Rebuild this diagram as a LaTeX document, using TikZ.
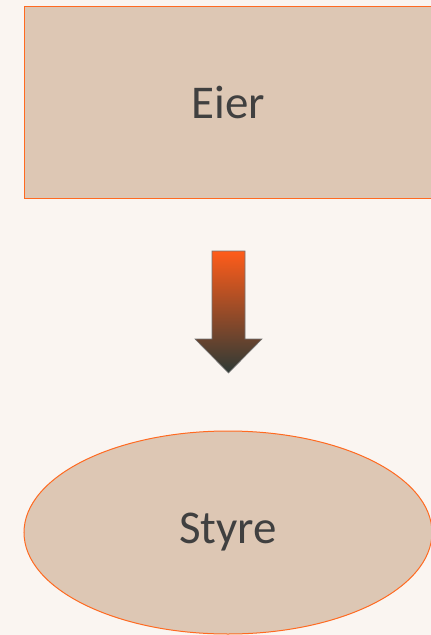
\documentclass[tikz,border=0pt]{standalone}
\usepackage{fontspec}
\setmainfont{Carlito}
\usepackage{tikz}
\usetikzlibrary{positioning, shapes.geometric}
\usepackage{xcolor}

\definecolor{pagebg}{HTML}{FAF5F1}
\definecolor{boxfill}{HTML}{DDC7B4}
\definecolor{boxline}{HTML}{FF6A21}
\definecolor{textgray}{HTML}{404040}
\definecolor{arrowtop}{HTML}{FF5C1A}
\definecolor{arrowbot}{HTML}{2E3A36}

\begin{document}
\begin{tikzpicture}[x=1pt,y=-1pt]
  \tikzstyle{block}=[draw=boxline,line width=1pt,fill=boxfill,text=textgray,
    font=\fontsize{47}{52}\selectfont,inner sep=0pt]

  \useasboundingbox[fill=pagebg] (0,0) rectangle (431,635);

  \node[block,rectangle,minimum width=409pt,minimum height=192pt] (eier) at (228.5,102) {Eier};
  \node[block,ellipse,minimum width=408pt,minimum height=203pt] (styre) at (228,532.5) {Styre};

  % block arrow between the two
  \coordinate (tip) at (228.5,373);
  \shadedraw[top color=arrowtop,bottom color=arrowbot,draw=black!55,line width=0.6pt]
    (212,251) -- (245,251) -- (245,339) -- (262,339) -- (tip)
    -- (195,339) -- (212,339) -- cycle;
\end{tikzpicture}
\end{document}
